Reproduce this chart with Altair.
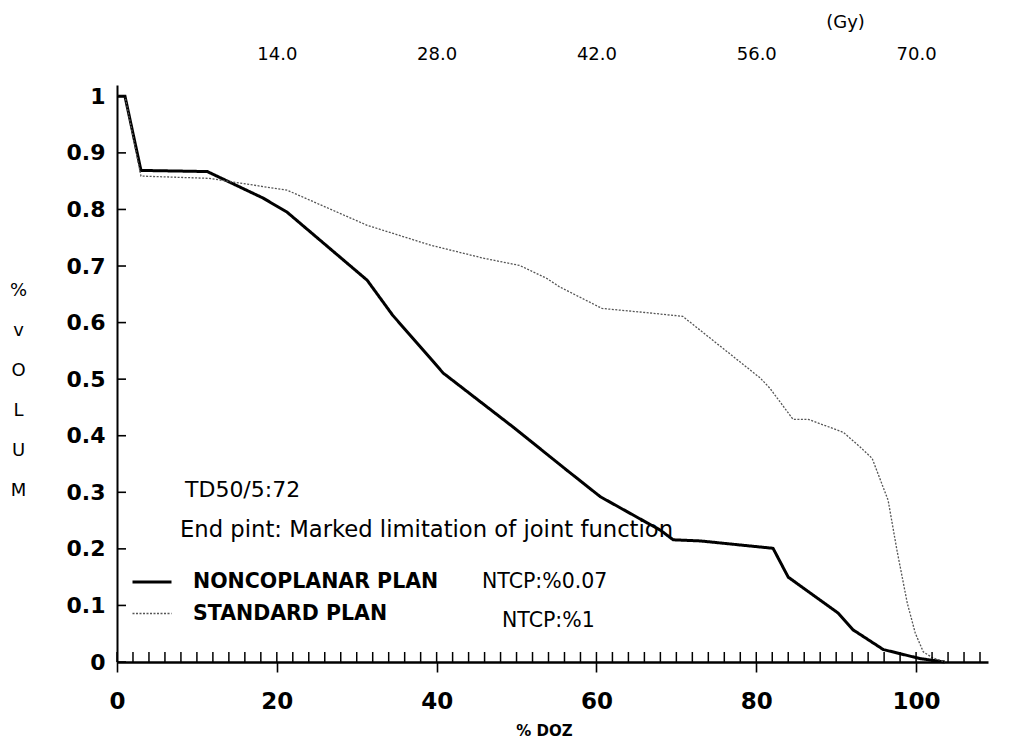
import altair as alt
import pandas as pd

# ---- data ----
plan_names = ["NONCOPLANAR PLAN", "STANDARD PLAN"]

noncop_dose = [0, 1.0, 3.0, 11.3, 18.3, 21.3, 31.3, 34.5, 39.4, 40.8, 49.6, 56.3,
               60.5, 68.0, 69.6, 73.0, 82.1, 84.0, 90.2, 92.1, 95.9, 100.5, 103.6]
noncop_vol = [1.0, 1.0, 0.869, 0.867, 0.820, 0.795, 0.675, 0.613, 0.534, 0.511, 0.415, 0.339,
              0.292, 0.233, 0.216, 0.214, 0.201, 0.150, 0.087, 0.057, 0.022, 0.006, 0.0]

std_dose = [0, 1.0, 3.0, 11.5, 21.3, 31.3, 39.2, 45.8, 50.4, 53.8, 55.4, 60.7, 66.7, 70.8,
            80.5, 81.7, 84.6, 86.5, 90.9, 93.0, 94.5, 96.5, 97.6, 98.9, 99.9, 100.9, 102.0, 103.6]
std_vol = [1.0, 1.0, 0.859, 0.855, 0.834, 0.772, 0.737, 0.714, 0.701, 0.678, 0.663, 0.625, 0.617, 0.611,
           0.502, 0.484, 0.429, 0.429, 0.406, 0.380, 0.360, 0.286, 0.198, 0.104, 0.051, 0.018, 0.008, 0.0]

y_tick_values = [0, 0.1, 0.2, 0.3, 0.4, 0.5, 0.6, 0.7, 0.8, 0.9, 1.0]
x_major_ticks = [0, 20, 40, 60, 80, 100]
x_minor_ticks = [0, 2, 4, 6, 8, 10, 12, 14, 16, 18, 20, 22, 24, 26, 28, 30, 32, 34, 36, 38,
                 40, 42, 44, 46, 48, 50, 52, 54, 56, 58, 60, 62, 64, 66, 68, 70, 72, 74, 76,
                 78, 80, 82, 84, 86, 88, 90, 92, 94, 96, 98, 100, 102, 104, 106, 108]
gy_tick_positions = [20, 40, 60, 80, 100]   # % of 70 Gy -> 14.0 ... 70.0

y_title_letters = ["%", "v", "O", "L", "U", "M"]
td50_text = "TD50/5:72"
endpoint_text = "End pint: Marked limitation of joint function"
ntcp_texts = ["NTCP:%0.07", "NTCP:%1"]

FONT = "DejaVu Sans"

df = pd.DataFrame({
    "dose": noncop_dose + std_dose,
    "vol": noncop_vol + std_vol,
    "plan": [plan_names[0]] * len(noncop_dose) + [plan_names[1]] * len(std_dose),
})

xscale = alt.Scale(domain=[0, 109], nice=False, zero=False)
yscale = alt.Scale(domain=[0, 1.02], nice=False, zero=False)

legend = alt.Legend(
    orient="none", legendX=14, legendY=476, title=None,
    symbolType="stroke", symbolSize=1521, padding=0, rowPadding=0,
    labelFont=FONT, labelFontWeight="bold", labelFontSize=20.5, labelColor="black",
    labelOffset=20, labelLimit=500,
)

bottom_axis = alt.Axis(
    orient="bottom", values=x_major_ticks, format="d", grid=False,
    domainColor="black", domainWidth=2.5, tickColor="black", tickSize=10, tickWidth=1.6,
    labelFont=FONT, labelFontWeight="bold", labelFontSize=23, labelColor="black",
    labelBaseline="middle", labelPadding=29, labelFlush=False,
    title="% DOZ", titleX=427, titleY=68, titleFont=FONT, titleFontWeight="bold",
    titleFontSize=15, titleBaseline="middle", titleAlign="center", titleColor="black",
)

left_axis = alt.Axis(
    orient="left", values=y_tick_values, format=".1~f", grid=False,
    domainColor="black", domainWidth=2, ticks=False, labelPadding=12,
    labelFont=FONT, labelFontWeight="bold", labelFontSize=22, labelColor="black",
    labelFlush=False,
    title=y_title_letters, titleAngle=0, titleX=-99, titleY=205, titleLineHeight=40,
    titleFont=FONT, titleFontWeight="normal", titleFontSize=18, titleColor="black",
    titleBaseline="middle", titleAlign="center",
)

top_axis = alt.Axis(
    orient="top", values=gy_tick_positions, labelExpr="format(datum.value * 0.7, '.1f')",
    domain=False, ticks=False, grid=False, labelPadding=31, labelBaseline="middle",
    labelFont=FONT, labelFontSize=18, labelColor="black", labelFlush=False,
    title="(Gy)", titleX=728, titleY=-63, titleFont=FONT, titleFontWeight="normal",
    titleFontSize=18, titleBaseline="middle", titleAlign="center", titleColor="black",
)

lines = alt.Chart(df).mark_line(interpolate="linear").encode(
    x=alt.X("dose:Q", scale=xscale, axis=bottom_axis),
    y=alt.Y("vol:Q", scale=yscale, axis=left_axis),
    color=alt.Color("plan:N", scale=alt.Scale(domain=plan_names, range=["#000000", "#555555"]), legend=legend),
    strokeDash=alt.StrokeDash("plan:N", scale=alt.Scale(domain=plan_names, range=[[1, 0], [2, 1.5]]), legend=legend),
    strokeWidth=alt.StrokeWidth("plan:N", scale=alt.Scale(domain=plan_names, range=[3, 1.3]), legend=legend),
)

minor = alt.Chart(pd.DataFrame({"t": x_minor_ticks})).mark_rule(color="black", strokeWidth=1.5).encode(
    x=alt.X("t:Q", scale=xscale, axis=top_axis),
    y=alt.value(577), y2=alt.value(567),
)

yticks = alt.Chart(pd.DataFrame({"vol": y_tick_values})).mark_rule(color="black", strokeWidth=1.6).encode(
    y=alt.Y("vol:Q", scale=yscale, axis=left_axis),
    x=alt.value(0), x2=alt.value(9),
)


def label(text, px, py, size, weight="normal"):
    return alt.Chart(pd.DataFrame({"s": [text]})).mark_text(
        align="left", baseline="middle", font=FONT, fontSize=size,
        fontWeight=weight, color="black",
    ).encode(text="s:N", x=alt.value(px), y=alt.value(py))


texts = [
    label(td50_text, 68, 405, 22),
    label(endpoint_text, 63, 445, 22.7),
    label(ntcp_texts[0], 365, 497, 20.5),
    label(ntcp_texts[1], 385, 536, 20.5),
]

chart = alt.layer(lines, minor, yticks, *texts).resolve_axis(x="independent").properties(
    width=871, height=577,
    padding={"left": 117, "top": 85, "right": 27, "bottom": 80},
    autosize=alt.AutoSizeParams(type="none"),
    background="white",
).configure_view(stroke=None)

chart.save("out.html", embed_options={"renderer": "svg", "actions": False})
